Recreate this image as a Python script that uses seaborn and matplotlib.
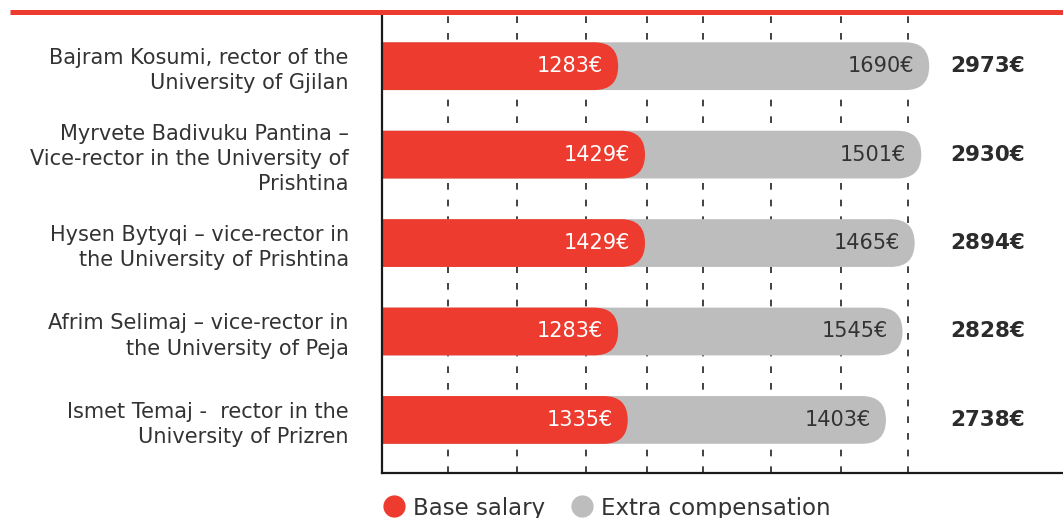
import pandas as pd
import matplotlib.pyplot as plt
import seaborn as sns
from matplotlib.patches import FancyBboxPatch
from matplotlib.lines import Line2D
import matplotlib.transforms as mtransforms

# -------------------- DATA --------------------
names = [
    "Bajram Kosumi, rector of the\nUniversity of Gjilan",
    "Myrvete Badivuku Pantina –\nVice-rector in the University of\nPrishtina",
    "Hysen Bytyqi – vice-rector in\nthe University of Prishtina",
    "Afrim Selimaj – vice-rector in\nthe University of Peja",
    "Ismet Temaj -  rector in the\nUniversity of Prizren",
]
base_salary = [1283, 1429, 1429, 1283, 1335]
extra_comp = [1690, 1501, 1465, 1545, 1403]
grid_marks = [360, 735, 1110, 1440, 1745, 2115, 2495, 2860]

RED = "#EE3B2F"
GREY = "#BEBDBE"
DARK = "#2B2B2B"

df = pd.DataFrame({"name": names, "base": base_salary, "extra": extra_comp})
df["total"] = df["base"] + df["extra"]

# -------------------- PLOT --------------------
sns.set_theme(style="white")
plt.rcParams["font.family"] = ["DejaVu Sans"]

fig = plt.figure(figsize=(10.63, 5.18), dpi=100)
ax = fig.add_axes([382 / 1063, 1 - 473 / 518, 1 - 382 / 1063, (473 - 14) / 518])

bar_h = 0.54
sns.barplot(data=df, x="total", y="name", color=GREY, width=bar_h, saturation=1, ax=ax)
sns.barplot(data=df, x="base", y="name", color=RED, width=bar_h, saturation=1, ax=ax)

xmax = 3700
ax.set_xlim(0, xmax)
ax.set_ylim(4.6, -0.59)

# round the right end of each bar
r = 130
for p in list(ax.patches):
    x, y = p.get_x(), p.get_y()
    w, h = p.get_width(), p.get_height()
    fc = p.get_facecolor()
    p.remove()
    ax.add_patch(FancyBboxPatch(
        (x - 2 * r, y), w + 2 * r, h,
        boxstyle=f"round,pad=0,rounding_size={r}",
        mutation_aspect=h / (2 * r),
        facecolor=fc, edgecolor="none", zorder=2))

# dashed grid
ax.set_xticks(grid_marks)
ax.set_axisbelow(True)
ax.grid(axis="x", color="#222222", linestyle=(0, (4, 6)), linewidth=1.2)
ax.tick_params(axis="x", length=0, labelbottom=False)

ax.set_xlabel("")
ax.set_ylabel("")
ax.tick_params(axis="y", length=0, pad=24, labelsize=15, labelcolor="#333333")
for lbl in ax.get_yticklabels():
    lbl.set_linespacing(1.32)

for side in ["top", "right"]:
    ax.spines[side].set_visible(False)
for side in ["left", "bottom"]:
    ax.spines[side].set_color("#1A1A1A")
    ax.spines[side].set_linewidth(1.6)

# value labels
trans = mtransforms.blended_transform_factory(ax.transAxes, ax.transData)
for i, row in df.iterrows():
    ax.text(row["base"] - 80, i, f"{row['base']}€", ha="right", va="center",
            color="white", fontsize=15, zorder=3)
    ax.text(row["total"] - 80, i, f"{row['extra']}€", ha="right", va="center",
            color="#333333", fontsize=15, zorder=3)
    ax.text(0.834, i, f"{row['total']}€", ha="left", va="center",
            color=DARK, fontsize=15.5, fontweight="bold", transform=trans)

# red rule at the top
fig.add_artist(Line2D([10 / 1063, 1], [1 - 11.5 / 518] * 2, color=RED, lw=3.6,
                      solid_capstyle="butt"))

# legend
handles = [
    Line2D([], [], marker="o", linestyle="none", markersize=15, color=RED, label="Base salary"),
    Line2D([], [], marker="o", linestyle="none", markersize=15, color=GREY, label="Extra compensation"),
]
fig.legend(handles=handles, loc="center left", bbox_to_anchor=(380 / 1063, 1 - 508 / 518),
           ncol=2, frameon=False, fontsize=16.5, handletextpad=0.25, columnspacing=1.0,
           labelcolor="#333333", borderaxespad=0, borderpad=0, handlelength=1.2)

fig.savefig("out.png", dpi=100)
